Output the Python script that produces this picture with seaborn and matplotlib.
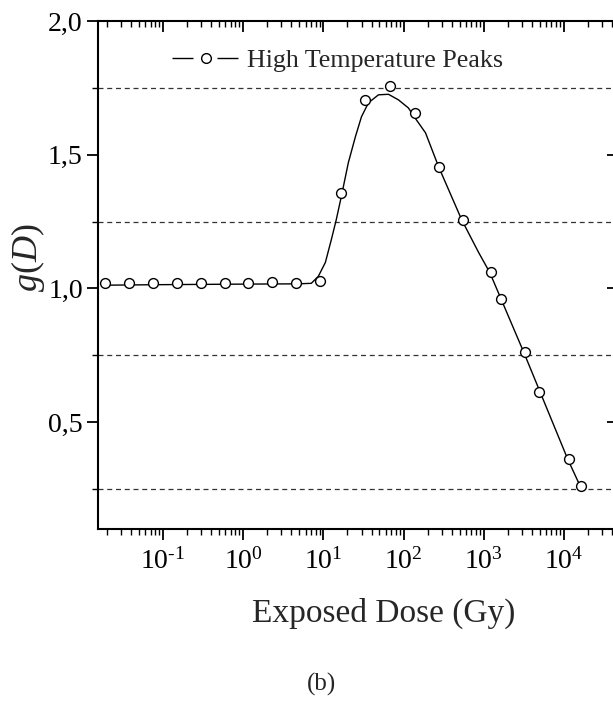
import matplotlib
matplotlib.use("Agg")
import matplotlib.pyplot as plt
import seaborn as sns
import pandas as pd
from matplotlib.lines import Line2D
from matplotlib.ticker import FixedLocator, FixedFormatter, LogLocator, NullFormatter, NullLocator

# Measured points: exposed dose (Gy) and g(D)
dose_pts = [0.0188, 0.0376, 0.075, 0.15, 0.30, 0.59, 1.15, 2.3, 4.6, 9.2,
            16.8, 33.5, 67, 138, 275, 550, 1220, 1630, 3260, 4900, 11600, 16300]
g_pts = [1.019, 1.022, 1.022, 1.022, 1.022, 1.022, 1.022, 1.024, 1.022, 1.026,
         1.358, 1.705, 1.757, 1.657, 1.455, 1.257, 1.060, 0.959, 0.761, 0.612, 0.362, 0.261]

# Fitted curve through the measurements
fit_dose = [0.0188, 0.1, 1.0, 4.87, 7.08, 8.66, 10.6, 12.6, 14.5, 16.8, 20.5, 25.1,
            29.9, 36.5, 48.7, 64.9, 86.6, 115, 145, 188, 274, 531, 866, 1189,
            3162, 11220, 16300]
fit_g = [1.012, 1.014, 1.016, 1.017, 1.019, 1.045, 1.097, 1.183, 1.257, 1.345, 1.47, 1.567,
         1.642, 1.694, 1.724, 1.726, 1.705, 1.675, 1.630, 1.582, 1.455, 1.257, 1.134, 1.060,
         0.761, 0.360, 0.255]

# Reference levels drawn as dashed lines
ref_levels = [1.75, 1.25, 0.75, 0.25]

y_ticks = [0.5, 1.0, 1.5, 2.0]
y_labels = ["0,5", "1,0", "1,5", "2,0"]
x_ticks = [0.1, 1, 10, 100, 1000, 10000]
x_labels = ["$10^{\\mathrm{\u2010}1}$", "$10^{0}$", "$10^{1}$", "$10^{2}$", "$10^{3}$", "$10^{4}$"]

sns.set_theme(style="white")
plt.rcParams["font.family"] = ["Liberation Serif", "DejaVu Serif"]
plt.rcParams["mathtext.fontset"] = "custom"
plt.rcParams["mathtext.rm"] = "Liberation Serif"
plt.rcParams["mathtext.it"] = "Liberation Serif:italic"

fig = plt.figure(figsize=(6.13, 7.08), dpi=100)
ax = fig.add_axes([0.16, 0.2528, 0.8465, 0.7175])

pts = pd.DataFrame({"dose": dose_pts, "g": g_pts})
fit = pd.DataFrame({"dose": fit_dose, "g": fit_g})

for lv in ref_levels:
    ax.axhline(lv, color="#333333", lw=0.9, ls=(0, (4, 3)), zorder=1)

sns.lineplot(data=fit, x="dose", y="g", ax=ax, color="black", lw=1.0,
             estimator=None, sort=True, zorder=2)
sns.scatterplot(data=pts, x="dose", y="g", ax=ax, marker="o", s=50,
                facecolor="white", edgecolor="black", linewidth=1.0, zorder=3)

ax.set_xscale("log")
xlim = (0.0155, 46000)
ylim = (0.1, 2.0)
ax.set_xlim(*xlim)
ax.set_ylim(*ylim)

ax.xaxis.set_major_locator(FixedLocator(x_ticks))
ax.xaxis.set_major_formatter(FixedFormatter(x_labels))
ax.xaxis.set_minor_locator(LogLocator(base=10, subs=range(2, 10), numticks=20))
ax.xaxis.set_minor_formatter(NullFormatter())
ax.yaxis.set_major_locator(FixedLocator(y_ticks))
ax.yaxis.set_major_formatter(FixedFormatter(y_labels))
ax.yaxis.set_minor_locator(FixedLocator(ref_levels))

for s in ax.spines.values():
    s.set_linewidth(1.5)
    s.set_color("black")

ax.tick_params(axis="both", which="both", color="black", labelcolor="black")
ax.tick_params(axis="x", which="major", direction="out", length=8, width=1.3,
               bottom=True, top=False, labelsize=20, pad=6)
ax.tick_params(axis="x", which="minor", direction="out", length=4.5, width=1.0,
               bottom=True, top=False)
ax.tick_params(axis="y", which="major", direction="out", length=8, width=1.3,
               left=True, right=False, labelsize=20, pad=3)
ax.tick_params(axis="y", which="minor", direction="out", length=4, width=1.0,
               left=True, right=False)

# inward ticks on the top edge (separate overlay axes, nothing shared)
top = fig.add_axes(ax.get_position(), frameon=False)
top.patch.set_visible(False)
top.set_xscale("log")
top.set_xlim(*xlim)
top.set_ylim(*ylim)
top.xaxis.set_ticks_position("top")
top.xaxis.set_major_locator(FixedLocator(x_ticks))
top.xaxis.set_minor_locator(LogLocator(base=10, subs=range(2, 10), numticks=20))
top.xaxis.set_major_formatter(NullFormatter())
top.xaxis.set_minor_formatter(NullFormatter())
top.tick_params(axis="x", which="major", direction="in", length=8, width=1.3,
                top=True, bottom=False, color="black")
top.tick_params(axis="x", which="minor", direction="in", length=4.5, width=1.0,
                top=True, bottom=False, color="black")
# inward ticks on the right edge
top.yaxis.set_ticks_position("right")
top.yaxis.set_major_locator(FixedLocator(y_ticks))
top.yaxis.set_minor_locator(NullLocator())
top.yaxis.set_major_formatter(NullFormatter())
top.tick_params(axis="y", which="major", direction="in", length=7, width=1.3,
                right=True, left=False, color="black")

ax.set_xlabel("Exposed Dose (Gy)", fontsize=24)
ax.xaxis.set_label_coords(0.55, -0.135)
ax.set_ylabel(r"$g(D)$", fontsize=26)
ax.yaxis.set_label_coords(-0.098, 0.535)

handle = Line2D([], [], color="black", lw=1.0, ls=(0, (15.1, 17.3, 15.1, 100)),
                marker="o", markersize=7,
                markerfacecolor="white", markeredgecolor="black")
ax.legend([handle], ["High Temperature Peaks"], loc="upper left",
          bbox_to_anchor=(0.098, 0.992), frameon=False, fontsize=18.7,
          handlelength=2.57, handletextpad=0.3, numpoints=1)

fig.text(0.524, 0.017, "(b)", fontsize=18, ha="center", va="bottom")

fig.savefig("out.png", dpi=100)
